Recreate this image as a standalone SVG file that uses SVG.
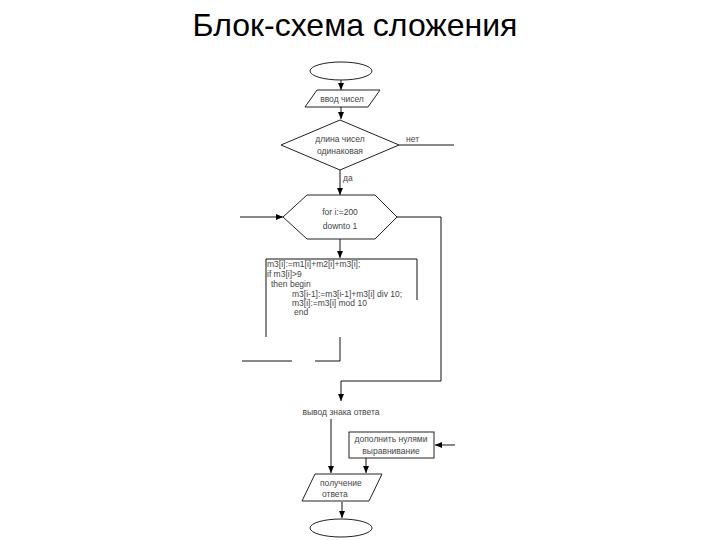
<svg xmlns="http://www.w3.org/2000/svg" width="720" height="540" viewBox="0 0 720 540">
<defs>
<marker id="ah" markerWidth="8" markerHeight="8" refX="7" refY="4" orient="auto" markerUnits="userSpaceOnUse">
<path d="M0,1 L7,4 L0,7 Z" fill="#000"/>
</marker>
<style>
.s{fill:#fff;stroke:#222;stroke-width:1}
.l{fill:none;stroke:#111;stroke-width:1}
.t{font-family:"Liberation Sans",Arial,sans-serif;font-size:8.5px;fill:#444}
.c{text-anchor:middle}
.title{font-family:"Liberation Sans",Arial,sans-serif;font-size:32px;fill:#000}
</style>
</defs>
<rect width="720" height="540" fill="#fff"/>
<text class="title" x="355" y="36" text-anchor="middle">Блок-схема сложения</text>

<g id="connectors">
<path class="l" d="M341,80 V90" marker-end="url(#ah)"/>
<path class="l" d="M341,107 V119" marker-end="url(#ah)"/>
<path class="l" d="M399,145 H454"/>
<path class="l" d="M340,170 V195" marker-end="url(#ah)"/>
<path class="l" d="M240,217 H283" marker-end="url(#ah)"/>
<path class="l" d="M397,217 H441 V381 H341 V401" marker-end="url(#ah)"/>
<path class="l" d="M340,239 V258" marker-end="url(#ah)"/>
<path class="l" d="M340,337 V361 H315"/>
<path class="l" d="M242,361 H292"/>
<path class="l" d="M331,419 V473" marker-end="url(#ah)"/>
<path class="l" d="M366,458 V473" marker-end="url(#ah)"/>
<path class="l" d="M455,445 H435" marker-end="url(#ah)"/>
<path class="l" d="M342,502 V518" marker-end="url(#ah)"/>
<text class="t" x="406" y="142">нет</text>
<text class="t" x="343" y="181">да</text>
</g>

<g id="start">
<ellipse class="s" cx="341" cy="71" rx="31" ry="9"/>
</g>

<g id="input">
<path class="s" d="M317,90 H380 L368,107 H305 Z"/>
<text class="t c" x="342" y="102">ввод чисел</text>
</g>

<g id="decision">
<path class="s" d="M340,120 L399,145 L340,170 L281,145 Z"/>
<text class="t c" x="340" y="142">длина чисел</text>
<text class="t c" x="340" y="154">одинаковая</text>
</g>

<g id="loop">
<path class="s" d="M283,217 L307,195 H375 L397,217 L375,239 H307 Z"/>
<text class="t c" x="340" y="215">for i:=200</text>
<text class="t c" x="340" y="229">downto 1</text>
</g>

<g id="body">
<path class="l" d="M266,337 V259 H417 V300"/>
<text class="t" x="267" y="267">m3[i]:=m1[i]+m2[i]+m3[i];</text>
<text class="t" x="267" y="277">if m3[i]&gt;9</text>
<text class="t" x="271" y="287">then begin</text>
<text class="t" x="292" y="297">m3[i-1]:=m3[i-1]+m3[i] div 10;</text>
<text class="t" x="292" y="306">m3[i]:=m3[i] mod 10</text>
<text class="t" x="294" y="315">end</text>
</g>

<g id="sign">
<text class="t c" x="341" y="415">вывод знака ответа</text>
</g>

<g id="pad">
<rect class="s" x="349" y="432" width="85" height="26"/>
<text class="t c" x="391" y="442">дополнить нулями</text>
<text class="t c" x="391" y="454">выравнивание</text>
</g>

<g id="output">
<path class="s" d="M315,474 H382 L369,501 H302 Z"/>
<text class="t" x="320" y="486">получение</text>
<text class="t" x="322" y="497">ответа</text>
</g>

<g id="end">
<ellipse class="s" cx="341" cy="528" rx="31" ry="9"/>
</g>
</svg>
